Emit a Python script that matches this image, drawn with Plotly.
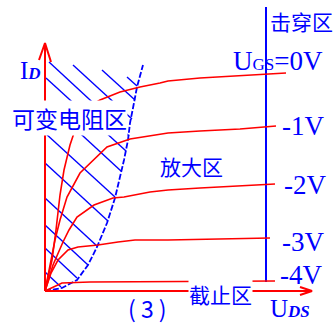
import plotly.graph_objects as go

# ---- data (arbitrary units: U_DS horizontally, I_D vertically) ----
ugs_labels = ["U<span style='font-size:17px'>GS</span>=0V", "-1V", "-2V", "-3V", "-4V"]

curve_0V_x = [0, 0.7, 1.1, 1.5, 1.9, 2.5, 3.0, 4.0, 5.0, 5.5, 7.5, 9.5, 11.5, 12.3, 15.5, 19.5, 24.1]
curve_0V_y = [0, 3.1, 6.1, 9.6, 12.1, 14.6, 16.1, 17.8, 18.8, 19.1, 19.9, 20.4, 20.8, 21.0, 21.3, 21.5, 21.8]

curve_1V_x = [0, 0.5, 1.0, 1.5, 2.2, 3.5, 5.5, 6.2, 8.5, 11.5, 12.3, 15.5, 19.5, 23.1]
curve_1V_y = [0, 2.6, 5.1, 7.1, 9.4, 11.8, 13.8, 14.4, 15.2, 15.7, 15.8, 16.0, 16.2, 16.5]

curve_2V_x = [0, 0.8, 1.8, 2.4, 3.2, 4.9, 6.8, 7.9, 10.5, 12.3, 15.5, 19.5, 23.0]
curve_2V_y = [0, 2.6, 4.9, 6.1, 7.4, 8.6, 9.3, 9.4, 9.9, 10.1, 10.3, 10.5, 10.7]

curve_3V_x = [0, 0.6, 1.3, 2.3, 3.3, 5.3, 7.3, 9.0, 12.3, 17.5, 22.5]
curve_3V_y = [0, 1.8, 3.1, 4.1, 4.4, 4.6, 4.9, 5.1, 5.1, 5.2, 5.3]

curve_4V_x = [0, 1.0, 1.7, 4.5, 23.0]
curve_4V_y = [0, 0.5, 0.8, 0.9, 1.0]

# pinch-off boundary (edge of the variable-resistance region)
boundary_x = [0, 1.7, 3.2, 4.3, 5.2, 6.2, 7.0, 7.5, 7.9, 8.3, 8.5, 8.8, 9.2, 9.8]
boundary_y = [0, 0.3, 1.1, 2.6, 4.4, 6.8, 9.3, 11.3, 13.1, 15.1, 16.8, 18.3, 20.4, 22.6]

# hatch lines of the variable-resistance region: start and end points
hatch_x0 = [8.2, 5.7, 2.8, 0.4, 0.1, 0.0, 0.0, 0.0, 0.0, 0.0, 0.0, 0.0]
hatch_y0 = [21.4, 22.1, 22.6, 22.9, 21.3, 19.0, 15.8, 12.8, 9.3, 6.6, 4.3, 1.9]
hatch_x1 = [9.2, 9.0, 8.7, 8.4, 8.1, 7.6, 7.0, 6.3, 5.2, 4.3, 3.2, 1.6]
hatch_y1 = [20.5, 19.1, 17.2, 15.5, 14.0, 12.0, 9.4, 7.0, 4.5, 2.6, 1.3, 0.4]

# breakdown boundary (vertical line)
breakdown_x = 22.1
breakdown_y = [0.9, 28.4]

# axes extents
axis_x_end = 26.7
axis_y_end = 24.8

RED = "#ff0000"
BLUE = "#0000ff"
CJK = "Noto Sans CJK SC"
SERIF = "Liberation Serif"

fig = go.Figure()

# hatching
hx, hy = [], []
for a, b, c, d in zip(hatch_x0, hatch_y0, hatch_x1, hatch_y1):
    hx += [a, c, None]
    hy += [b, d, None]
fig.add_trace(go.Scatter(x=hx, y=hy, mode="lines", line=dict(color=BLUE, width=1.4),
                         hoverinfo="skip", showlegend=False))

# boundary
fig.add_trace(go.Scatter(x=boundary_x, y=boundary_y, mode="lines",
                         line=dict(color=BLUE, width=1.8, dash="6px,2px"),
                         hoverinfo="skip", showlegend=False))

# breakdown line
fig.add_trace(go.Scatter(x=[breakdown_x, breakdown_x], y=breakdown_y, mode="lines",
                         line=dict(color=BLUE, width=2), hoverinfo="skip", showlegend=False))

# characteristic curves
for cx, cy in [(curve_0V_x, curve_0V_y), (curve_1V_x, curve_1V_y), (curve_2V_x, curve_2V_y),
               (curve_3V_x, curve_3V_y), (curve_4V_x, curve_4V_y)]:
    fig.add_trace(go.Scatter(x=cx, y=cy, mode="lines", line=dict(color=RED, width=1.6),
                             hoverinfo="skip", showlegend=False))

# axes with arrowheads
hw, hl = 0.6, 1.7
fig.add_trace(go.Scatter(x=[0, 0, None, -hw, 0, hw], y=[0, axis_y_end, None, axis_y_end - hl, axis_y_end, axis_y_end - hl - 0.2],
                         mode="lines", line=dict(color=RED, width=2), hoverinfo="skip", showlegend=False))
fig.add_trace(go.Scatter(x=[0, axis_x_end, None, axis_x_end - 1.2, axis_x_end, axis_x_end - 1.2],
                         y=[0, 0, None, 0.4, 0, -0.4],
                         mode="lines", line=dict(color=RED, width=2), hoverinfo="skip", showlegend=False))

def ann(x, y, text, size, family, bg=None, xanchor="center"):
    d = dict(x=x, y=y, xref="x", yref="y", text=text, showarrow=False,
             xanchor=xanchor, yanchor="middle", font=dict(size=size, family=family, color=BLUE))
    if bg:
        d.update(bgcolor=bg, borderpad=0)
    fig.add_annotation(**d)

# UGS labels
label_pos = [(23.3, 23.0), (25.8, 16.5), (26.0, 10.6), (25.8, 4.9), (25.6, 1.6)]
for (lx, ly), t in zip(label_pos, ugs_labels):
    ann(lx, ly, t, 27, SERIF)

ann(25.6, 27.0, "击穿区", 21, CJK)
ann(2.4, 17.3, "可变电阻区", 23, CJK, bg="white")
ann(14.6, 12.5, "放大区", 21, CJK)
ann(17.5, -0.3, "截止区", 21, CJK, bg="white")
ann(10.2, -1.7, "( 3 )", 23, CJK)
ann(24.5, -1.7, "U<span style='font-size:17px'><b><i>DS</i></b></span>", 25, SERIF)
ann(-1.5, 22.1, "I<span style='font-size:17px'><b><i>D</i></b></span>", 25, SERIF)

fig.update_layout(
    width=336, height=329, margin=dict(l=0, r=0, t=0, b=0),
    paper_bgcolor="white", plot_bgcolor="white",
    xaxis=dict(range=[-4.5, 29.1], visible=False, fixedrange=True),
    yaxis=dict(range=[-3.8, 29.1], visible=False, fixedrange=True),
)

fig.write_html("out.html", config={"displayModeBar": False},
               post_script="document.body.style.margin='0';document.body.style.overflow='hidden';")
